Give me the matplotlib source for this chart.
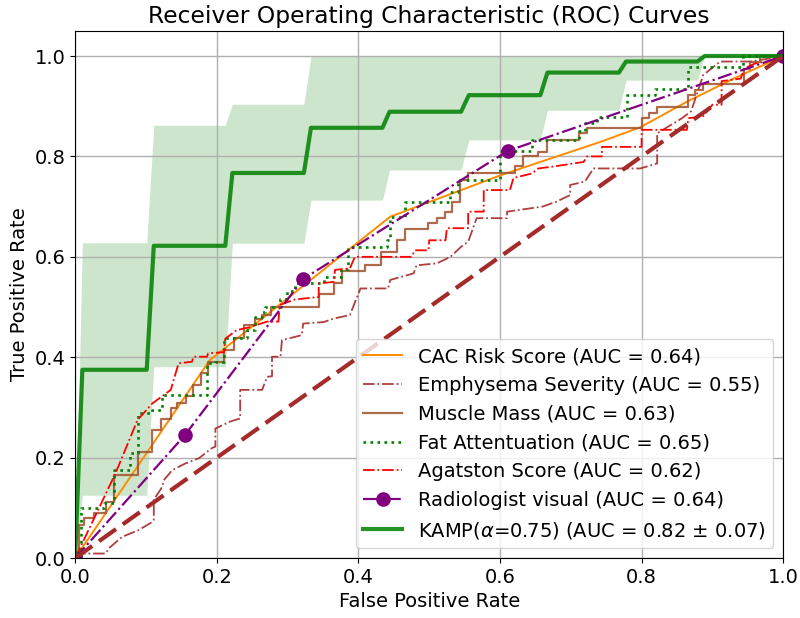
import matplotlib
matplotlib.use('Agg')
import matplotlib.pyplot as plt

# CAC Risk Score
cac_fpr = [0, 0.19, 0.445, 0.6, 0.657, 0.742, 0.798, 0.864, 0.93, 1.0]
cac_tpr = [0, 0.394, 0.68, 0.762, 0.789, 0.829, 0.858, 0.909, 0.955, 1.0]

# Emphysema Severity
emph_fpr = [0, 0.005, 0.012, 0.043, 0.048, 0.066, 0.09, 0.109, 0.111, 0.111,
            0.123, 0.125, 0.137, 0.155, 0.175, 0.193, 0.198, 0.198, 0.219, 0.233,
            0.233, 0.264, 0.271, 0.278, 0.278, 0.29, 0.292, 0.32, 0.322, 0.351,
            0.365, 0.388, 0.395, 0.403, 0.442, 0.445, 0.478, 0.482, 0.511, 0.53,
            0.545, 0.555, 0.567, 0.61, 0.61, 0.66, 0.68, 0.699, 0.699, 0.72,
            0.732, 0.798, 0.822, 0.822, 0.857, 0.87, 0.887, 0.911, 0.953, 0.98, 1.0]
emph_tpr = [0, 0.005, 0.009, 0.009, 0.02, 0.042, 0.056, 0.072, 0.076, 0.116,
            0.142, 0.155, 0.175, 0.188, 0.199, 0.219, 0.222, 0.258, 0.272, 0.278,
            0.335, 0.335, 0.361, 0.362, 0.401, 0.401, 0.434, 0.444, 0.467, 0.47,
            0.477, 0.484, 0.509, 0.537, 0.537, 0.554, 0.567, 0.583, 0.587, 0.6,
            0.62, 0.63, 0.677, 0.677, 0.69, 0.7, 0.71, 0.723, 0.743, 0.75,
            0.776, 0.776, 0.786, 0.846, 0.876, 0.89, 0.962, 0.989, 0.989, 0.995, 1.0]

# Muscle Mass (step corners)
muscle_fpr = [0, 0.005, 0.012, 0.026, 0.043, 0.055, 0.088, 0.109, 0.121, 0.135,
              0.144, 0.156, 0.167, 0.177, 0.188, 0.21, 0.224, 0.238, 0.254, 0.264,
              0.277, 0.344, 0.365, 0.377, 0.41, 0.432, 0.454, 0.466, 0.499, 0.511,
              0.523, 0.532, 0.544, 0.555, 0.621, 0.633, 0.654, 0.666, 0.711, 0.723,
              0.80, 0.81, 0.822, 0.866, 0.876, 0.887, 0.944, 0.953, 0.967, 1.0]
muscle_tpr = [0, 0.066, 0.079, 0.089, 0.112, 0.165, 0.212, 0.256, 0.276, 0.298,
              0.309, 0.322, 0.345, 0.368, 0.391, 0.414, 0.438, 0.464, 0.477, 0.484,
              0.501, 0.525, 0.547, 0.572, 0.584, 0.61, 0.633, 0.655, 0.667, 0.677,
              0.69, 0.71, 0.753, 0.766, 0.78, 0.80, 0.809, 0.833, 0.846, 0.856,
              0.876, 0.886, 0.899, 0.922, 0.932, 0.944, 0.975, 0.989, 1.0, 1.0]

# Fat Attentuation (step corners)
fat_fpr = [0, 0.0075, 0.041, 0.055, 0.078, 0.088, 0.109, 0.123, 0.186, 0.198,
           0.21, 0.242, 0.254, 0.264, 0.268, 0.289, 0.299, 0.31, 0.352, 0.375,
           0.386, 0.44, 0.445, 0.466, 0.53, 0.541, 0.6, 0.645, 0.711, 0.72,
           0.737, 0.779, 0.819, 0.866, 0.943, 1.0]
fat_tpr = [0, 0.099, 0.109, 0.175, 0.209, 0.288, 0.295, 0.325, 0.388, 0.391,
           0.438, 0.454, 0.481, 0.491, 0.501, 0.515, 0.531, 0.548, 0.56, 0.575,
           0.62, 0.633, 0.68, 0.71, 0.73, 0.753, 0.81, 0.833, 0.85, 0.866,
           0.879, 0.922, 0.935, 0.979, 1.0, 1.0]

# Agatston Score
aga_fpr = [0, 0.057, 0.088, 0.109, 0.135, 0.146, 0.165, 0.167, 0.186, 0.188,
           0.21, 0.212, 0.228, 0.247, 0.271, 0.287, 0.289, 0.31, 0.344, 0.344,
           0.365, 0.367, 0.388, 0.395, 0.475, 0.48, 0.499, 0.5, 0.523, 0.525,
           0.555, 0.555, 0.577, 0.577, 0.614, 0.619, 0.645, 0.654, 0.676, 0.718,
           0.723, 0.744, 0.744, 0.8, 0.8, 0.864, 0.866, 0.887, 0.9, 0.913,
           0.913, 0.94, 0.945, 0.96, 0.98, 1.0]
aga_tpr = [0, 0.169, 0.275, 0.308, 0.335, 0.388, 0.391, 0.401, 0.401, 0.408,
           0.41, 0.437, 0.454, 0.46, 0.471, 0.471, 0.504, 0.515, 0.52, 0.547,
           0.55, 0.574, 0.577, 0.6, 0.6, 0.613, 0.613, 0.633, 0.633, 0.657,
           0.657, 0.69, 0.69, 0.733, 0.733, 0.757, 0.766, 0.776, 0.78, 0.789,
           0.8, 0.8, 0.819, 0.819, 0.853, 0.853, 0.876, 0.88, 0.903, 0.903,
           0.95, 0.955, 0.975, 0.985, 0.99, 1.0]

# Radiologist visual
rad_fpr = [0, 0.155, 0.322, 0.611, 1.0]
rad_tpr = [0, 0.245, 0.556, 0.811, 1.0]

# KAMP mean curve and +/- std band
kamp_fpr = [0, 0.0101, 0.101, 0.111, 0.212, 0.222, 0.323, 0.333, 0.434, 0.444,
            0.545, 0.556, 0.657, 0.667, 0.768, 0.778, 0.879, 0.889, 1.0]
kamp_tpr = [0, 0.375, 0.375, 0.622, 0.622, 0.767, 0.767, 0.857, 0.857, 0.889,
            0.889, 0.922, 0.922, 0.967, 0.967, 0.989, 0.989, 1.0, 1.0]
kamp_hi = [0, 0.628, 0.628, 0.862, 0.862, 0.904, 0.904, 1.0, 1.0, 1.0,
           1.0, 1.0, 1.0, 1.0, 1.0, 1.0, 1.0, 1.0, 1.0]
kamp_lo = [0, 0.125, 0.125, 0.381, 0.381, 0.627, 0.627, 0.713, 0.713, 0.773,
           0.773, 0.833, 0.833, 0.892, 0.892, 0.952, 0.952, 1.0, 1.0]

labels = ['CAC Risk Score (AUC = 0.64)',
          'Emphysema Severity (AUC = 0.55)',
          'Muscle Mass (AUC = 0.63)',
          'Fat Attentuation (AUC = 0.65)',
          'Agatston Score (AUC = 0.62)',
          'Radiologist visual (AUC = 0.64)',
          r'KAMP($\alpha$=0.75) (AUC = 0.82 $\pm$ 0.07)']

fig = plt.figure(figsize=(8, 6.18), dpi=100)
ax = fig.add_axes([0.094, 0.097, 0.885, 0.853])

ax.plot(cac_fpr, cac_tpr, color='darkorange', lw=1.4, label=labels[0])
ax.plot(emph_fpr, emph_tpr, color='brown', ls='-.', lw=1.3, alpha=0.9, label=labels[1])
ax.plot(muscle_fpr, muscle_tpr, color='sienna', lw=1.6, alpha=0.85,
        drawstyle='steps-post', label=labels[2])
ax.plot(fat_fpr, fat_tpr, color='green', ls=':', lw=1.9,
        drawstyle='steps-post', label=labels[3])
ax.plot(aga_fpr, aga_tpr, color='red', ls='-.', lw=1.3, label=labels[4])
ax.plot(rad_fpr, rad_tpr, color='purple', ls='-.', lw=1.6, marker='o',
        markersize=9.5, label=labels[5])
ax.plot(kamp_fpr, kamp_tpr, color='green', lw=3, alpha=0.85, label=labels[6])
ax.fill_between(kamp_fpr, kamp_lo, kamp_hi, color='green', alpha=0.2, lw=0)
ax.plot([0, 1], [0, 1], color='brown', ls='--', lw=3, dashes=(5, 2))

ax.set_xlim([0.0, 1.0])
ax.set_ylim([0.0, 1.05])
ax.grid(True, color='#b0b0b0', lw=1)
ax.tick_params(labelsize=14)
ax.set_xlabel('False Positive Rate', fontsize=14)
ax.set_ylabel('True Positive Rate', fontsize=14)
ax.set_title('Receiver Operating Characteristic (ROC) Curves', fontsize=16.8)
ax.legend(loc='lower right', fontsize=14)

fig.savefig('out.png', dpi=100)
